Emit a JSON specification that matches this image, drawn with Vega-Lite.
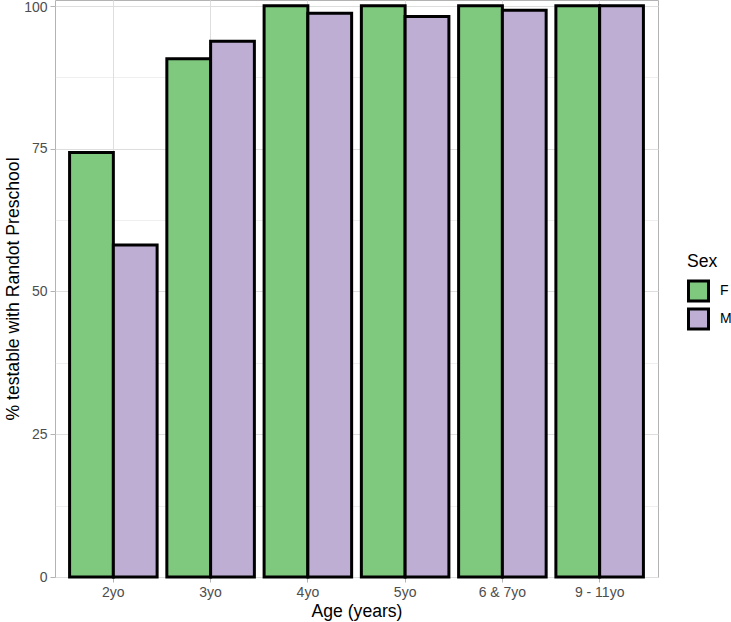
{
  "$schema": "https://vega.github.io/schema/vega-lite/v6.json",
  "autosize": "none",
  "padding": {"left": 55, "top": 0, "right": 73, "bottom": 45},
  "width": 603,
  "height": 577,
  "background": "white",
  "config": {
    "font": "Liberation Sans",
    "view": {"stroke": "#B3B3B3", "strokeWidth": 1}
  },
  "data": {
    "values": [
      {"age": "2yo", "sex": "F", "pct": 74.3},
      {"age": "2yo", "sex": "M", "pct": 58.1},
      {"age": "3yo", "sex": "F", "pct": 90.7},
      {"age": "3yo", "sex": "M", "pct": 93.8},
      {"age": "4yo", "sex": "F", "pct": 100},
      {"age": "4yo", "sex": "M", "pct": 98.7},
      {"age": "5yo", "sex": "F", "pct": 100},
      {"age": "5yo", "sex": "M", "pct": 98.1},
      {"age": "6 & 7yo", "sex": "F", "pct": 100},
      {"age": "6 & 7yo", "sex": "M", "pct": 99.2},
      {"age": "9 - 11yo", "sex": "F", "pct": 100},
      {"age": "9 - 11yo", "sex": "M", "pct": 100}
    ]
  },
  "mark": {"type": "bar", "stroke": "black", "strokeWidth": 3},
  "encoding": {
    "x": {
      "field": "age",
      "type": "nominal",
      "sort": ["2yo", "3yo", "4yo", "5yo", "6 & 7yo", "9 - 11yo"],
      "scale": {"paddingInner": 0.1, "paddingOuter": 0.15},
      "axis": {
        "title": "Age (years)",
        "labelAngle": 0,
        "bandPosition": 0.5,
        "grid": true,
        "gridColor": "#DEDEDE",
        "gridWidth": 1,
        "domain": false,
        "tickColor": "#B3B3B3",
        "tickSize": 5,
        "labelPadding": 3,
        "labelFontSize": 14,
        "labelColor": "#4D4D4D",
        "titleFontSize": 17.6,
        "titleFontWeight": "normal",
        "titleColor": "black",
        "titlePadding": 3
      }
    },
    "xOffset": {
      "field": "sex",
      "type": "nominal",
      "scale": {"paddingInner": 0, "paddingOuter": 0}
    },
    "y": {
      "field": "pct",
      "type": "quantitative",
      "scale": {"domain": [0, 101], "nice": false, "zero": true},
      "axis": {
        "title": "% testable with Randot Preschool",
        "values": [0, 12.5, 25, 37.5, 50, 62.5, 75, 87.5, 100],
        "labelExpr": "datum.value % 25 === 0 ? datum.label : ''",
        "labelOffset": {"condition": {"test": "datum.value === 100", "value": 2}, "value": 0},
        "grid": true,
        "gridColor": "#DEDEDE",
        "gridWidth": {"condition": {"test": "datum.value % 25 !== 0", "value": 0.5}, "value": 1},
        "domain": false,
        "tickColor": "#B3B3B3",
        "tickOpacity": {"condition": {"test": "datum.value % 25 !== 0", "value": 0}, "value": 1},
        "tickSize": 5,
        "labelPadding": 3,
        "labelFontSize": 14,
        "labelColor": "#4D4D4D",
        "titleFontSize": 17.6,
        "titleFontWeight": "normal",
        "titleColor": "black",
        "titlePadding": 1
      }
    },
    "fill": {
      "field": "sex",
      "type": "nominal",
      "scale": {"domain": ["F", "M"], "range": ["#7FC97F", "#BEAED4"]},
      "legend": {
        "title": "Sex",
        "orient": "none",
        "legendX": 632,
        "legendY": 253,
        "titleFontSize": 17.6,
        "titleFontWeight": "normal",
        "titleColor": "black",
        "titlePadding": 9,
        "symbolType": "square",
        "symbolSize": 400,
        "symbolStrokeColor": "black",
        "symbolStrokeWidth": 3,
        "symbolOpacity": 1,
        "labelFontSize": 14,
        "labelColor": "black",
        "labelOffset": 10,
        "rowPadding": -13
      }
    }
  }
}
